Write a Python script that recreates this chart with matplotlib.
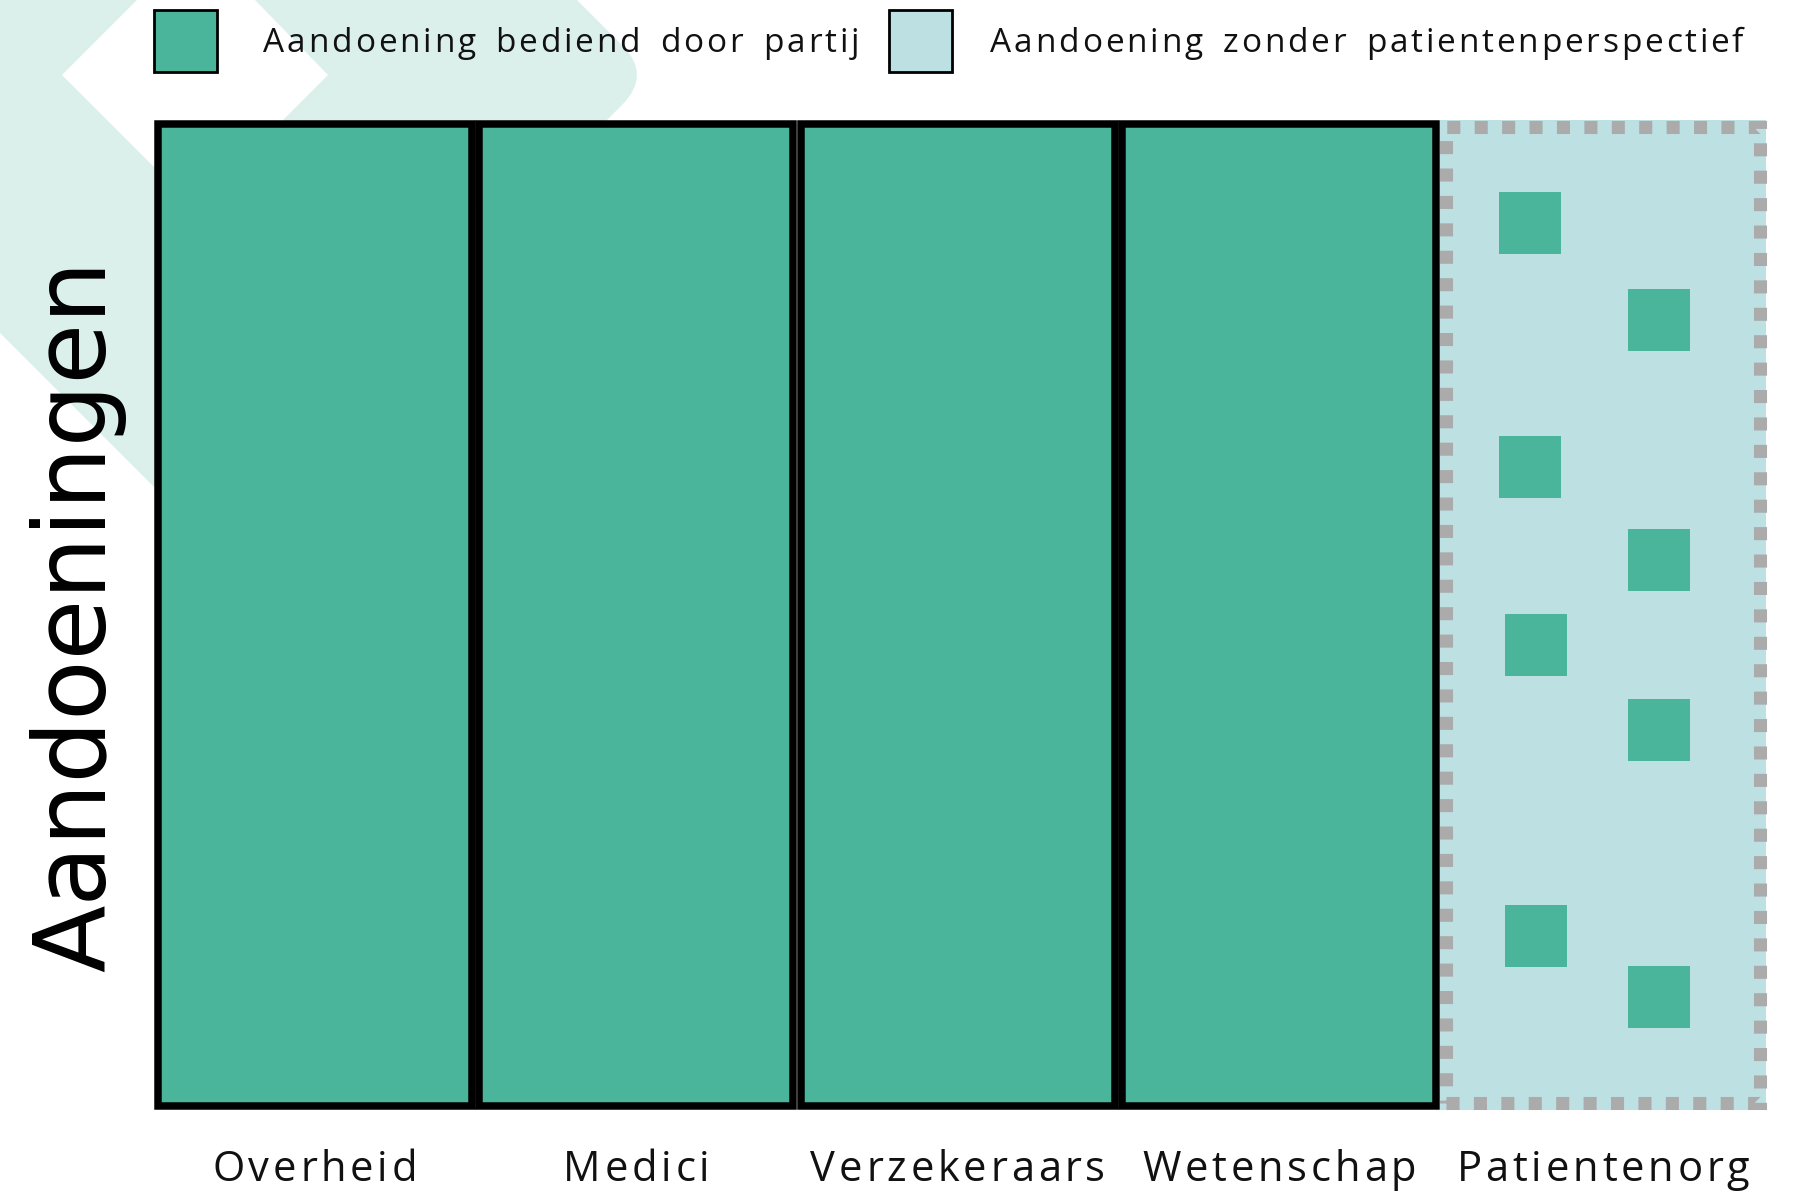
import matplotlib
matplotlib.use("Agg")
import numpy as np
import matplotlib.pyplot as plt
from matplotlib.patches import Rectangle, Polygon, PathPatch
from matplotlib.path import Path
from matplotlib.font_manager import FontProperties
from matplotlib.transforms import IdentityTransform

W, H = 1794, 1192

# data
partijen = ["Overheid", "Medici", "Verzekeraars", "Wetenschap"]
partij_dekking = [100, 100, 100, 100]
patient_label = "Patientenorg"
# losse aandoeningen die patientenorganisaties wel bedienen
blok_x = [4.28, 4.68, 4.28, 4.68, 4.30, 4.68, 4.30, 4.68]
blok_y = [89.9, 80.0, 65.1, 55.6, 46.9, 38.3, 17.3, 11.1]
legenda = ["Aandoening bediend door partij", "Aandoening zonder patientenperspectief"]
y_titel = "Aandoeningen"

GROEN = "#4bb59b"
LICHT = "#bde0e2"
MUNT = "#dcf0eb"
GRIJS = "#ababab"

fig = plt.figure(figsize=(W / 100, H / 100), dpi=100)


def px(x, y):
    # pixel (van linksboven) naar figuurfractie
    return (x / W, 1 - y / H)


# achtergrond logo (lichte chevrons linksboven)
links = [(0, 0), (137, 0), (62, 75), (300, 313), (300, 633), (0, 333)]
fig.add_artist(Polygon([px(*p) for p in links], closed=True, facecolor=MUNT,
                       edgecolor="none", transform=fig.transFigure, zorder=-2))
rechts_pts = [(255, 0), (577, 0), (622, 45), (652, 75), (622, 105), (524, 203),
              (200, 203), (285, 118), (328, 75), (255, 0)]
codes = [Path.MOVETO, Path.LINETO, Path.LINETO, Path.CURVE3, Path.CURVE3,
         Path.LINETO, Path.LINETO, Path.LINETO, Path.LINETO, Path.CLOSEPOLY]
fig.add_artist(PathPatch(Path([px(*p) for p in rechts_pts], codes), facecolor=MUNT,
                         edgecolor="none", transform=fig.transFigure, zorder=-2))

# assen: x=0 op 154px, 321.5px per kolom
ax = fig.add_axes([154 / W, (H - 1106.25) / H, 1607.5 / W, (1106.25 - 123.75) / H])
ax.set_xlim(0, 5)
ax.set_ylim(0, 100)
ax.axis("off")

# kolom patientenorganisaties
ax.bar(4, 100.8, width=1.015, bottom=-0.4, align="edge", color=LICHT,
       clip_on=False, zorder=1)

x = np.arange(len(partijen)) + 0.5
ax.bar(x, partij_dekking, width=0.977, color=GROEN, edgecolor="black",
       linewidth=5.4, zorder=2, clip_on=False)

# gestippelde rand
rand = Rectangle((4.02, 0.28), 0.974, 99.44, fill=False, edgecolor=GRIJS,
                 linewidth=9.4, linestyle=(0, (1, 1.1)), capstyle="butt",
                 zorder=3, clip_on=False)
ax.add_patch(rand)

ax.scatter(blok_x, blok_y, s=2000, marker="s", color=GROEN, linewidths=0,
           zorder=4, clip_on=False)


def spatie_tekst(x, y, tekst, size, family, spacing, woord=0, ha="left"):
    # tekst met extra letterafstand, letter voor letter geplaatst
    fp = FontProperties(family=family, size=size)
    r = fig.canvas.get_renderer()
    ref = r.get_text_width_height_descent("I", fp, ismath=False)[0]
    pos = []
    extra = 0
    for i, ch in enumerate(tekst):
        w = r.get_text_width_height_descent(tekst[:i] + "I", fp, ismath=False)[0] - ref
        pos.append(w + extra)
        extra += spacing + (woord if ch == " " else 0)
    laatste = r.get_text_width_height_descent(tekst[-1], fp, ismath=False)[0]
    breedte = pos[-1] + laatste
    start = x - breedte / 2 if ha == "center" else x
    for p, ch in zip(pos, tekst):
        if ch == " ":
            continue
        fig.text(start + p, y, ch, fontproperties=fp, color="#111111",
                 ha="left", va="baseline", transform=IdentityTransform())


# legenda
fig.add_artist(Rectangle(px(154, 72), 63 / W, 62 / H, facecolor=GROEN,
                         edgecolor="black", linewidth=2, transform=fig.transFigure))
fig.add_artist(Rectangle(px(889, 72), 63 / W, 62 / H, facecolor=LICHT,
                         edgecolor="black", linewidth=2, transform=fig.transFigure))
spatie_tekst(263, H - 51.7, legenda[0], 24, "Open Sans", 2.8, woord=6)
spatie_tekst(990, H - 51.7, legenda[1], 24, "Open Sans", 2.8, woord=6)

# kolomlabels
labels = partijen + [patient_label]
midden = list(x) + [4.507]
for lab, m in zip(labels, midden):
    spatie_tekst(154 + 321.5 * m, H - 1181, lab, 30, "Open Sans", 3.8, ha="center")

# y-as titel
fig.text(105, H - 616, y_titel, fontsize=71, family="DejaVu Sans", rotation=90,
         rotation_mode="anchor", ha="center", va="baseline", color="black",
         transform=IdentityTransform())

fig.savefig("out.png", dpi=100)
